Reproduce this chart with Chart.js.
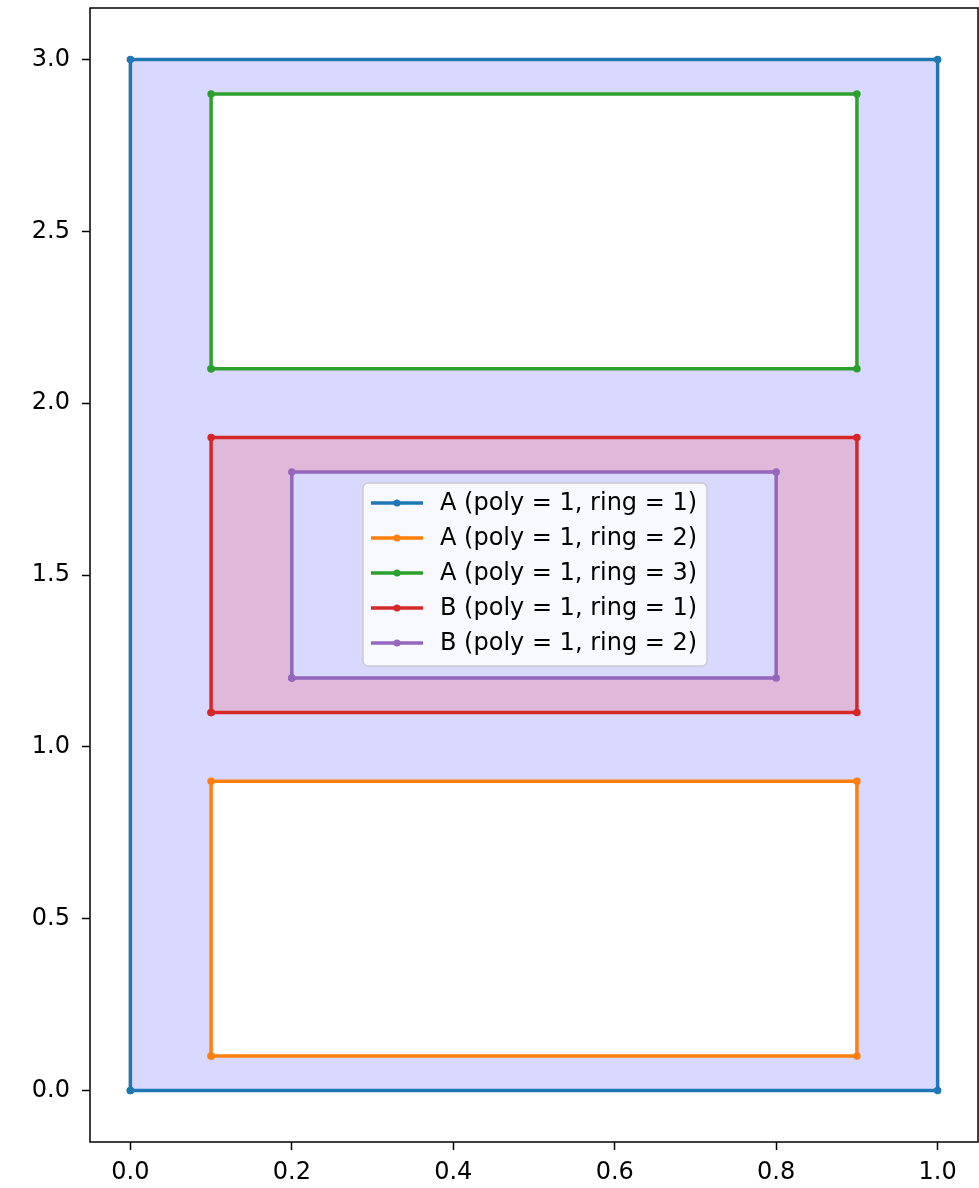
<!DOCTYPE html>
<html>
<head>
<meta charset="utf-8">
<script src="https://cdn.jsdelivr.net/npm/chart.js@4.4.0/dist/chart.umd.min.js"></script>
<style>
  html, body { margin: 0; padding: 0; background: #fff; }
  canvas { display: block; }
</style>
</head>
<body>
<canvas id="chart" width="979" height="1188"></canvas>
<script>
// ring outlines, closed
const ringA1 = [[0, 0], [1, 0], [1, 3], [0, 3], [0, 0]];
const ringA2 = [[0.1, 0.1], [0.9, 0.1], [0.9, 0.9], [0.1, 0.9], [0.1, 0.1]];
const ringA3 = [[0.1, 2.1], [0.9, 2.1], [0.9, 2.9], [0.1, 2.9], [0.1, 2.1]];
const ringB1 = [[0.1, 1.1], [0.9, 1.1], [0.9, 1.9], [0.1, 1.9], [0.1, 1.1]];
const ringB2 = [[0.2, 1.2], [0.8, 1.2], [0.8, 1.8], [0.2, 1.8], [0.2, 1.2]];

const ringLabels = [
    'A (poly = 1, ring = 1)',
    'A (poly = 1, ring = 2)',
    'A (poly = 1, ring = 3)',
    'B (poly = 1, ring = 1)',
    'B (poly = 1, ring = 2)'
];
const ringColors = ['#1f77b4', '#ff7f0e', '#2ca02c', '#d62728', '#9467bd'];

const xTicks = [0.0, 0.2, 0.4, 0.6, 0.8, 1.0];
const yTicks = [0.0, 0.5, 1.0, 1.5, 2.0, 2.5, 3.0];

const FONT = "'DejaVu Sans', sans-serif";
const rings = [ringA1, ringA2, ringA3, ringB1, ringB2];

// polygons with holes, filled even-odd
const polyFill = {
    id: 'polyFill',
    beforeDatasetsDraw(chart) {
        const ctx = chart.ctx;
        const xs = chart.scales.x, ys = chart.scales.y;
        const polys = [
            { rings: [ringA1, ringA2, ringA3], color: 'rgba(0, 0, 255, 0.15)' },
            { rings: [ringB1, ringB2], color: 'rgba(255, 0, 0, 0.15)' }
        ];
        ctx.save();
        polys.forEach(p => {
            ctx.beginPath();
            p.rings.forEach(r => {
                r.forEach((pt, i) => {
                    const px = xs.getPixelForValue(pt[0]);
                    const py = ys.getPixelForValue(pt[1]);
                    if (i === 0) ctx.moveTo(px, py); else ctx.lineTo(px, py);
                });
                ctx.closePath();
            });
            ctx.fillStyle = p.color;
            ctx.fill('evenodd');
        });
        ctx.restore();
    }
};

const frameAndLegend = {
    id: 'frameAndLegend',
    afterDraw(chart) {
        const ctx = chart.ctx;
        const a = chart.chartArea;
        ctx.save();
        ctx.strokeStyle = '#000';
        ctx.lineWidth = 1.5;
        ctx.strokeRect(a.left, a.top, a.right - a.left, a.bottom - a.top);

        // legend box
        const lx = a.left + 273, ly = a.top + 475, lw = 344, lh = 183;
        ctx.beginPath();
        ctx.roundRect(lx, ly, lw, lh, 5);
        ctx.fillStyle = 'rgba(255, 255, 255, 0.8)';
        ctx.fill();
        ctx.strokeStyle = '#cccccc';
        ctx.lineWidth = 1.5;
        ctx.stroke();

        ctx.font = '24px ' + FONT;
        ctx.textBaseline = 'middle';
        ctx.textAlign = 'left';
        ringLabels.forEach((lab, i) => {
            const yy = ly + 20 + i * 35;
            ctx.strokeStyle = ringColors[i];
            ctx.lineWidth = 3.5;
            ctx.beginPath();
            ctx.moveTo(lx + 8, yy);
            ctx.lineTo(lx + 60, yy);
            ctx.stroke();
            ctx.fillStyle = ringColors[i];
            ctx.beginPath();
            ctx.arc(lx + 34, yy, 3.5, 0, Math.PI * 2);
            ctx.fill();
            ctx.fillStyle = '#000';
            ctx.fillText(lab, lx + 77, yy + 1);
        });
        ctx.restore();
    }
};

const data = {
    datasets: rings.map((r, i) => ({
        label: ringLabels[i],
        data: r.map(p => ({ x: p[0], y: p[1] })),
        showLine: true,
        borderColor: ringColors[i],
        backgroundColor: ringColors[i],
        borderWidth: 3.5,
        pointRadius: 3.75,
        pointBorderWidth: 0,
        pointHoverRadius: 3.75,
        fill: false,
        clip: false
    }))
};

function noPad(s) {
    s.paddingTop = 0;
    s.paddingBottom = 0;
    s.paddingLeft = 0;
    s.paddingRight = 0;
}

new Chart(document.getElementById('chart'), {
    type: 'scatter',
    data: data,
    plugins: [polyFill, frameAndLegend],
    options: {
        responsive: false,
        animation: false,
        devicePixelRatio: 1,
        layout: { autoPadding: false, padding: { top: 8, right: 1, left: 0, bottom: 0 } },
        plugins: {
            legend: { display: false },
            tooltip: { enabled: false }
        },
        scales: {
            x: {
                type: 'linear',
                min: -0.05,
                max: 1.05,
                afterBuildTicks: s => { s.ticks = xTicks.map(v => ({ value: v })); },
                afterFit: s => { s.height = 46; noPad(s); },
                border: { display: false },
                grid: { drawOnChartArea: false, drawTicks: true, tickLength: 8, tickWidth: 1.5, tickColor: '#000' },
                ticks: {
                    color: '#000',
                    padding: 8,
                    maxRotation: 0,
                    font: { family: FONT, size: 24 },
                    callback: v => v.toFixed(1)
                }
            },
            y: {
                type: 'linear',
                min: -0.15,
                max: 3.15,
                afterBuildTicks: s => { s.ticks = yTicks.map(v => ({ value: v })); },
                afterFit: s => { s.width = 90; noPad(s); },
                border: { display: false },
                grid: { drawOnChartArea: false, drawTicks: true, tickLength: 8, tickWidth: 1.5, tickColor: '#000' },
                ticks: {
                    color: '#000',
                    padding: 12,
                    font: { family: FONT, size: 24 },
                    callback: v => v.toFixed(1)
                }
            }
        }
    }
});
</script>
</body>
</html>
